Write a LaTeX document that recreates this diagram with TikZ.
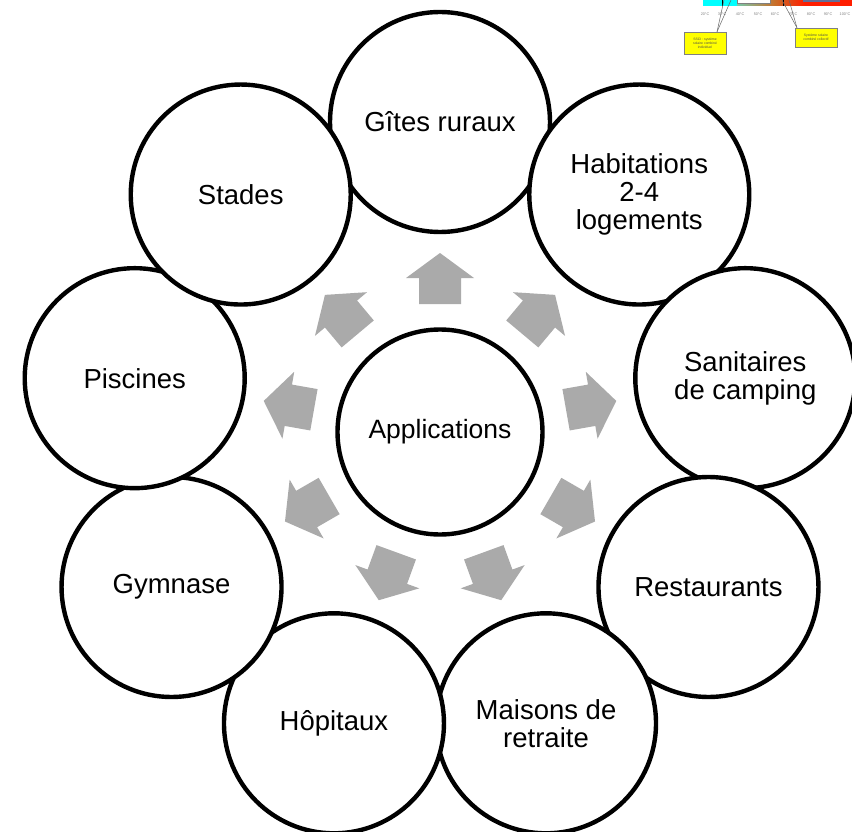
\documentclass[tikz,border=0pt]{standalone}
\usepackage{fontspec}
\setmainfont{Liberation Sans}
\definecolor{arrowgray}{RGB}{170,170,170}
\definecolor{barcyan}{RGB}{0,255,255}
\definecolor{barmid}{RGB}{120,200,170}
\definecolor{barbrown}{RGB}{200,110,40}
\definecolor{barred}{RGB}{255,30,0}
\definecolor{barblue}{RGB}{100,110,150}
\definecolor{labyellow}{RGB}{255,255,0}
\begin{document}
\begin{tikzpicture}[x=1pt,y=-1pt,
  ringnode/.style={circle, draw=black, line width=4.4pt, fill=white, minimum size=220pt,
    inner sep=0pt, align=center, font=\fontsize{27.5}{28}\selectfont},
  hubnode/.style={circle, draw=black, line width=4.4pt, fill=white, minimum size=205pt,
    inner sep=0pt, align=center, font=\fontsize{26.5}{28}\selectfont},
  blockarrow/.style={fill=arrowgray, draw=none},
  ticklab/.style={font=\fontsize{3.8}{4}\selectfont, text=gray, inner sep=0pt},
  notebox/.style={fill=labyellow, draw=gray, line width=0.4pt, inner sep=1pt, align=center,
    font=\fontsize{3.4}{4.2}\selectfont, text=black!70},
  leader/.style={draw=gray!80!black, line width=0.5pt}]
\useasboundingbox (0,0) rectangle (852,832);
\clip (0,0) rectangle (852,832);

% --- fragment of a temperature chart, top right ---
\fill[barcyan] (703,-1) rectangle (737,6);
\shade[left color=barmid, right color=barbrown] (737,-1) rectangle (775,6);
\shade[left color=barbrown, right color=barred] (775,-1) rectangle (805,6);
\fill[barred] (805,-1) rectangle (853,6);
\draw[fill=white, draw=gray, line width=0.4pt] (737,-1) rectangle (770,3);
\fill[barblue] (803,-1) rectangle (840,2);
\draw[black, line width=0.5pt] (722,-1) -- (722,6);
\draw[black, line width=0.5pt] (783,-1) -- (783,6);
\foreach \t/\xx in {20/705,30/722,40/740,50/758,60/775,70/793,80/811,90/828,100/845}
  \node[ticklab] (tick\t) at (\xx,14) {\t°C};
\node[notebox, minimum width=42pt, minimum height=22pt] (ssci) at (705,43)
  {SSCI : système\\solaire combiné\\individuel};
\node[notebox, minimum width=42pt, minimum height=19pt] (ssc) at (816,37.5)
  {Système solaire\\combiné collectif};
\coordinate (la) at (724,0);
\coordinate (lb) at (731,0);
\coordinate (lc) at (782,0);
\coordinate (ld) at (789,0);
\draw[leader] (ssci.north) ++(12,0) coordinate (sa) -- (la);
\draw[leader] (sa) -- (lb);
\draw[leader] (ssc.north) ++(-19,0) coordinate (sb) -- (lc);
\draw[leader] (sb) -- (ld);

% --- block arrows ---
\foreach \a in {90,50,10,-30,-70,-110,-150,170,130}{
  \begin{scope}[shift={(440,432)}, rotate=\a]
    \fill[blockarrow] (128,-21) -- (154,-21) -- (154,-34) -- (179,0) -- (154,34)
      -- (154,21) -- (128,21) -- cycle;
  \end{scope}
}

% --- hub ---
\node[hubnode] (hub) at (440,432) {Applications};

% --- ring of applications ---
\node[ringnode] (gites)  at ({440+310*cos(90)},{432-310*sin(90)}) {Gîtes ruraux};
\node[ringnode] (habit)  at ({440+310*cos(50)},{432-310*sin(50)}) {Habitations\\2-4\\logements};
\node[ringnode] (sanit)  at ({440+310*cos(10)},{432-310*sin(10)}) {Sanitaires\\de camping};
\node[ringnode] (resto)  at ({440+310*cos(-30)},{432-310*sin(-30)}) {Restaurants};
\node[ringnode] (maison) at ({440+310*cos(-70)},{432-310*sin(-70)}) {Maisons de\\retraite};
\node[ringnode] (hopit)  at ({440+310*cos(-110)},{432-310*sin(-110)}) {Hôpitaux};
\node[ringnode] (gymn)   at ({440+310*cos(-150)},{432-310*sin(-150)}) {Gymnase};
\node[ringnode] (pisc)   at ({440+310*cos(170)},{432-310*sin(170)}) {Piscines};
\node[ringnode] (stades) at ({440+310*cos(130)},{432-310*sin(130)}) {Stades};
\end{tikzpicture}
\end{document}
